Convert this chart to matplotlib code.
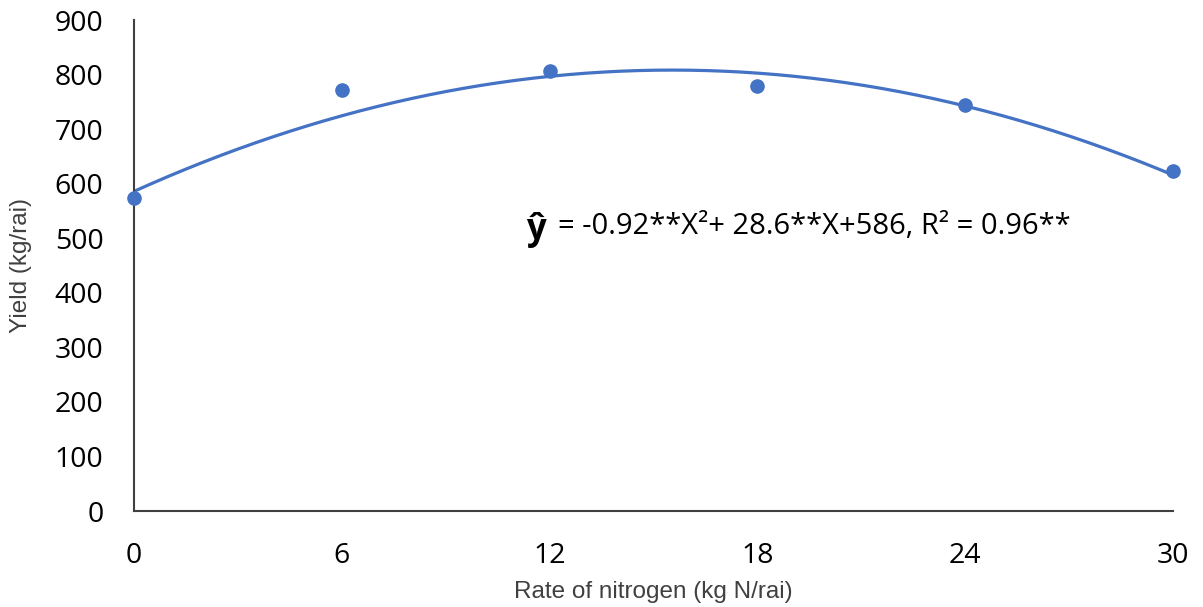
import numpy as np
import matplotlib.pyplot as plt

# observed yields
n_rate = [0, 6, 12, 18, 24, 30]
yield_obs = [574, 772, 806, 779, 744, 623]

# fitted quadratic trendline, y = a*x^2 + b*x + c
coef = [-0.92, 28.6, 586]

xticks = [0, 6, 12, 18, 24, 30]
yticks = [0, 100, 200, 300, 400, 500, 600, 700, 800, 900]

blue = '#4472C4'

plt.rcParams['font.family'] = ['Open Sans', 'DejaVu Sans']

fig = plt.figure(figsize=(12.03, 6.07), dpi=100)
ax = fig.add_axes([0.1114, 0.158, 0.8636, 0.809])

xf = np.linspace(0, 30, 300)
ax.plot(xf, np.polyval(coef, xf), color=blue, lw=2.3, zorder=2)
ax.plot(n_rate, yield_obs, 'o', color=blue, ms=9.5, zorder=3, clip_on=False)

ax.set_xlim(0, 30)
ax.set_ylim(0, 900)
ax.set_xticks(xticks)
ax.set_yticks(yticks)
ax.tick_params(length=0, labelsize=20.5)
ax.tick_params(axis='x', pad=22)
ax.tick_params(axis='y', pad=22)

for s in ['top', 'right']:
    ax.spines[s].set_visible(False)
for s in ['left', 'bottom']:
    ax.spines[s].set_color('#404040')
    ax.spines[s].set_linewidth(1.5)

ax.set_xlabel('Rate of nitrogen (kg N/rai)', fontsize=17.5, color='#404040',
              labelpad=8, family=['Liberation Sans', 'DejaVu Sans'])
ax.set_ylabel('Yield (kg/rai)', fontsize=17.5, color='#404040',
              labelpad=16, family=['Liberation Sans', 'DejaVu Sans'])

ax.text(11.6, 515, 'ŷ', fontsize=25, fontweight='bold', ha='center', va='center')
ax.text(12.25, 521, '= -0.92**X²+ 28.6**X+586, R² = 0.96**', fontsize=21,
        ha='left', va='center')

fig.savefig('out.png', dpi=100)
